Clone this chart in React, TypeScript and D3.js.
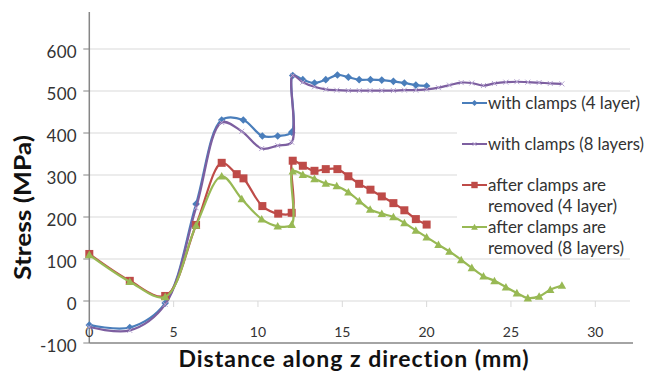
import * as d3 from 'd3';

// x positions (mm) and stress (MPa)
const xBlue = [0, 2.4, 4.5, 6.33, 7.85, 9.13, 10.26, 11.17, 12.0, 12.06, 12.66, 13.35, 14.02, 14.71, 15.36, 16.0, 16.67, 17.34, 18.03, 18.68, 19.36, 20.0];
const yBlue = [-57, -63, -5, 231, 431, 431, 393, 393, 402, 537, 527, 519, 527, 538, 533, 527, 527, 526, 523, 519, 514, 512];

const xRed = [0, 2.4, 4.5, 6.33, 7.85, 8.74, 9.14, 10.26, 11.2, 12.0, 12.06, 12.66, 13.35, 14.02, 14.71, 15.36, 16.0, 16.67, 17.34, 18.03, 18.68, 19.36, 20.0];
const yRed = [112, 48, 12, 181, 329, 302, 292, 226, 208, 210, 334, 322, 310, 314, 314, 297, 279, 265, 249, 233, 216, 195, 182];

const x8 = [0, 2.4, 4.5, 6.33, 7.85, 9.04, 10.22, 11.17, 12.0, 12.06, 12.66, 13.35, 14.02, 14.67, 15.36, 16.01, 16.65, 17.34, 18.03, 18.68, 19.36, 20.0, 20.7, 21.35, 22.05, 22.68, 23.37, 24.02, 24.7, 25.35, 26.0, 26.67, 27.33, 28.02];
const yPurple = [-62, -70, -8, 222, 425, 404, 363, 370, 378, 537, 521, 510, 504, 502, 501, 501, 501, 501, 501, 502, 502, 504, 508, 514, 520, 519, 513, 518, 521, 522, 521, 520, 518, 517];
const yGreen = [110, 46, 10, 180, 297, 243, 195, 178, 182, 309, 301, 291, 280, 274, 259, 238, 218, 208, 200, 186, 168, 152, 134, 118, 98, 79, 59, 48, 33, 19, 7, 11, 27, 37];

const yTicks = [-100, 0, 100, 200, 300, 400, 500, 600];
const xTicks = [0, 5, 10, 15, 20, 25, 30];

const legendLabels = [
  ['with clamps (4 layer)'],
  ['with clamps (8 layers)'],
  ['after clamps are', 'removed (4 layer)'],
  ['after clamps are', 'removed (8 layers)'],
];
// rendered widths of the legend lines in the reference (px)
const legendWidths = [[152], [156], [118, 129], [118, 136]];

const BLUE = '#4a7ebb';
const PURPLE = '#7d5fa0';
const RED = '#be4b48';
const GREEN = '#98b954';
const FONT = 'Lato, "Open Sans", sans-serif';

type Pt = [number, number];
const zip = (xs: number[], ys: number[]): Pt[] => xs.map((x, i) => [x, ys[i]]);

function Marker({ kind, cx, cy, s, color }: { kind: string; cx: number; cy: number; s: number; color: string }) {
  if (kind === 'diamond') {
    return <path d={`M${cx},${cy - s}L${cx + s},${cy}L${cx},${cy + s}L${cx - s},${cy}Z`} fill={color} />;
  }
  if (kind === 'square') {
    return <rect x={cx - s} y={cy - s} width={s * 2} height={s * 2} fill={color} />;
  }
  if (kind === 'triangle') {
    return <path d={`M${cx},${cy - s}L${cx + s},${cy + s * 0.8}L${cx - s},${cy + s * 0.8}Z`} fill={color} />;
  }
  return (
    <path d={`M${cx - s},${cy - s}L${cx + s},${cy + s}M${cx - s},${cy + s}L${cx + s},${cy - s}`} stroke="#b7a6d2" strokeWidth={1} />
  );
}

export default function App() {
  const W = 646;
  const H = 376;
  const left = 89.3;
  const right = 630;
  const x = d3.scaleLinear().domain([0, 30]).range([left, 595.3]);
  const y = d3.scaleLinear().domain([-100, 600]).range([343, 49]);

  const line = d3.line<Pt>()
    .x((d) => x(d[0]))
    .y((d) => y(d[1]))
    .curve(d3.curveCatmullRom.alpha(0.5));

  const series = [
    { pts: zip(xBlue, yBlue), color: BLUE, kind: 'diamond', s: 3.8 },
    { pts: zip(x8, yPurple), color: PURPLE, kind: 'x', s: 2.5 },
    { pts: zip(xRed, yRed), color: RED, kind: 'square', s: 4 },
    { pts: zip(x8, yGreen), color: GREEN, kind: 'triangle', s: 4.2 },
  ];

  const legendY = [103, 144, 185, 227];

  return (
    <svg width={W} height={H} style={{ position: 'absolute', left: 0, top: 0, background: '#fff' }}>
      {/* gridlines */}
      {yTicks.filter((t) => t > -100).map((t) => (
        <line key={t} x1={left} x2={right} y1={y(t)} y2={y(t)} stroke="#d9d9d9" strokeWidth={1} />
      ))}
      {/* legend background */}
      <rect x={457} y={95} width={189} height={158} fill="#fff" />

      {/* x ticks sit on the zero line */}
      {xTicks.slice(1).map((t) => (
        <line key={t} x1={x(t)} x2={x(t)} y1={y(0)} y2={y(0) + 6} stroke="#d9d9d9" strokeWidth={1} />
      ))}

      {/* axes */}
      <line x1={left} x2={left} y1={12} y2={y(-100)} stroke="#868686" strokeWidth={1.5} />
      <line x1={left} x2={right + 3} y1={y(-100)} y2={y(-100)} stroke="#868686" strokeWidth={1.5} />
      {yTicks.map((t) => (
        <g key={t}>
          <line x1={left - 6} x2={left} y1={y(t)} y2={y(t)} stroke="#868686" strokeWidth={1} />
          <text x={77} y={y(t) + 8.5} textAnchor="end" fontFamily={FONT} fontSize={17} letterSpacing={0.3} fill="#333">{t}</text>
        </g>
      ))}
      {xTicks.map((t) => (
        <text key={t} x={x(t)} y={336.7} textAnchor="middle" fontFamily={FONT} fontSize={14} fill="#333">{t}</text>
      ))}

      {/* series */}
      {series.map((s, i) => (
        <g key={i}>
          <path d={line(s.pts) || ''} fill="none" stroke={s.color} strokeWidth={2.2} />
          {s.pts.map((p, j) => (
            <Marker key={j} kind={s.kind} cx={x(p[0])} cy={y(p[1])} s={s.s} color={s.color} />
          ))}
        </g>
      ))}

      {/* legend */}
      {series.map((s, i) => (
        <g key={i}>
          <line x1={462} x2={487} y1={legendY[i]} y2={legendY[i]} stroke={s.color} strokeWidth={2} />
          <Marker kind={s.kind} cx={474.5} cy={legendY[i]} s={s.s * 0.8} color={s.kind === 'x' ? PURPLE : s.color} />
          {legendLabels[i].map((txt, k) => (
            <text key={k} x={488} y={legendY[i] + k * 21.5} dy="0.35em" fontFamily={FONT} fontSize={16.5}
              textLength={legendWidths[i][k]} lengthAdjust="spacingAndGlyphs" fill="#333">{txt}</text>
          ))}
        </g>
      ))}

      {/* axis titles */}
      <text x={354} y={367} textAnchor="middle" fontFamily={FONT} fontWeight={700} fontSize={23} letterSpacing={1} fill="#111">
        Distance along z direction (mm)
      </text>
      <text transform="translate(23,207.5) rotate(-90)" dy="0.35em" textAnchor="middle" fontFamily={FONT} fontWeight={700} fontSize={23}
        textLength={145} lengthAdjust="spacingAndGlyphs" fill="#111">
        Stress (MPa)
      </text>
    </svg>
  );
}
